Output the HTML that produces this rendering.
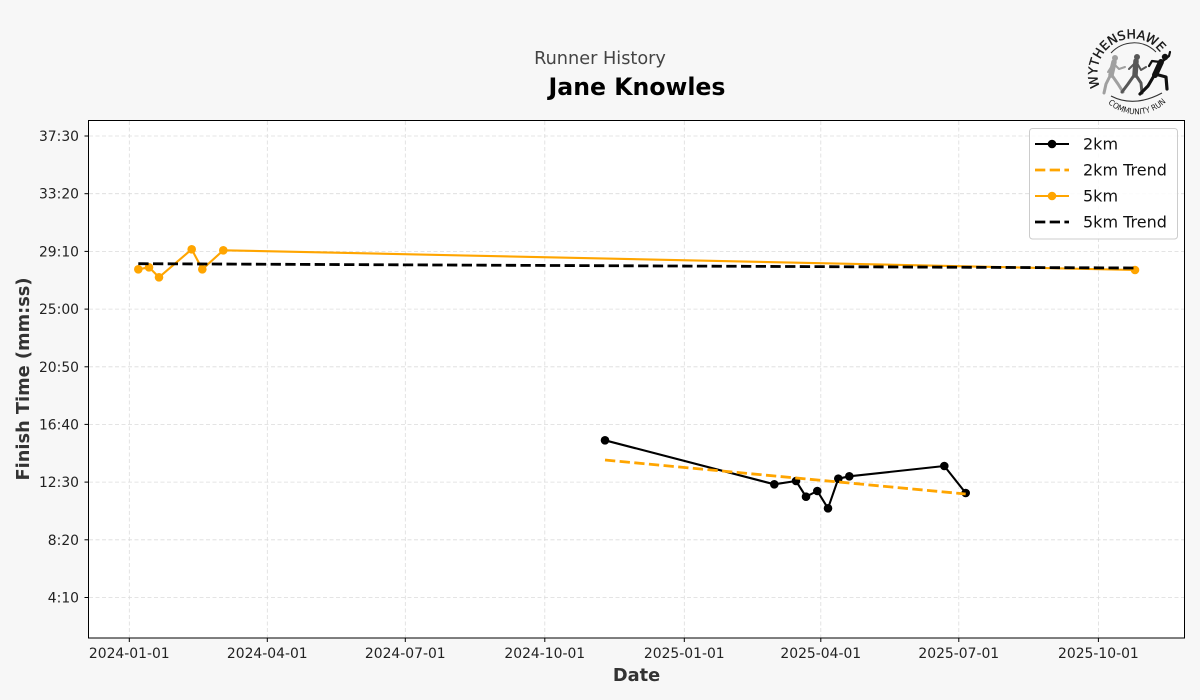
<!DOCTYPE html>
<html><head><meta charset="utf-8"><style>
html,body{margin:0;padding:0;background:#f7f7f7;}
svg{display:block;font-family:"DejaVu Sans","Liberation Sans",sans-serif;}
</style></head><body>
<svg width="1200" height="700" viewBox="0 0 1200 700" xmlns="http://www.w3.org/2000/svg">
<rect x="0" y="0" width="1200" height="700" fill="#f7f7f7"/>
<!-- titles -->
<text x="600" y="64" font-size="17.7" fill="#444" text-anchor="middle">Runner History</text>
<text x="637" y="95" font-size="23.6" font-weight="bold" fill="#000" text-anchor="middle">Jane Knowles</text>

<!-- logo -->
<g>
<defs>
<path id="arcTop" d="M1100,87 A35,35 0 0 1 1162,55"/>
<path id="arcBot" d="M1108,103.3 A42,42 0 0 0 1168,100"/>
</defs>
<text font-size="12.5" fill="#1a1a1a" stroke="#1a1a1a" stroke-width="0.35"><textPath href="#arcTop" textLength="101" lengthAdjust="spacing">WYTHENSHAWE</textPath></text>
<path d="M1111,53 A31,31 0 0 1 1156,52" fill="none" stroke="#333" stroke-width="1"/>
<path d="M1111,96 Q1134,108 1162,93" fill="none" stroke="#333" stroke-width="1.2"/>
<text font-size="8" fill="#1a1a1a"><textPath href="#arcBot" textLength="64" lengthAdjust="spacingAndGlyphs">COMMUNITY RUN</textPath></text>
<!-- walker gray -->
<g fill="#a0a0a0" stroke="#a0a0a0" stroke-linecap="round" stroke-linejoin="round">
<circle cx="1115" cy="58" r="3" stroke="none"/>
<path d="M1114,62 L1111,75" stroke-width="5.5" fill="none"/>
<path d="M1111,74 L1106,84 L1104,93 M1111,74 L1118,84 L1123,92" stroke-width="3" fill="none"/>
<path d="M1113,64 L1108,72 M1114,64 L1119,69 L1125,67" stroke-width="2" fill="none"/>
</g>
<!-- runner dark gray -->
<g fill="#575757" stroke="#575757" stroke-linecap="round" stroke-linejoin="round">
<circle cx="1137" cy="57" r="3" stroke="none"/>
<path d="M1136,61 L1135,75" stroke-width="5.5" fill="none"/>
<path d="M1135,74 L1128,84 L1122,92 M1135,74 L1141,83 L1142,93" stroke-width="3" fill="none"/>
<path d="M1135,63 L1129,69 M1137,63 L1141,70 L1146,67" stroke-width="2" fill="none"/>
</g>
<!-- runner black -->
<g fill="#111" stroke="#111" stroke-linecap="round" stroke-linejoin="round">
<circle cx="1165" cy="57" r="3.2" stroke="none"/>
<path d="M1161,62 L1155,75" stroke-width="6" fill="none"/>
<path d="M1155,74 L1148,86 L1140,94 M1155,74 L1166,77 L1167,89" stroke-width="3.2" fill="none"/>
<path d="M1160,62 L1152,61 L1149,66 M1163,61 L1169,56 L1170,52" stroke-width="2.2" fill="none"/>
</g>
</g>

<!-- axes background -->
<rect x="88.5" y="120.5" width="1096" height="517.5" fill="#ffffff"/>

<!-- grid -->
<g stroke="#dcdcdc" stroke-width="0.8" stroke-dasharray="4,2.5" fill="none">
<line x1="129.3" y1="121" x2="129.3" y2="638"/>
<line x1="267.3" y1="121" x2="267.3" y2="638"/>
<line x1="405.3" y1="121" x2="405.3" y2="638"/>
<line x1="544.8" y1="121" x2="544.8" y2="638"/>
<line x1="684.3" y1="121" x2="684.3" y2="638"/>
<line x1="820.8" y1="121" x2="820.8" y2="638"/>
<line x1="958.8" y1="121" x2="958.8" y2="638"/>
<line x1="1098.4" y1="121" x2="1098.4" y2="638"/>
<line x1="89" y1="136" x2="1184" y2="136"/>
<line x1="89" y1="193.7" x2="1184" y2="193.7"/>
<line x1="89" y1="251.4" x2="1184" y2="251.4"/>
<line x1="89" y1="309.1" x2="1184" y2="309.1"/>
<line x1="89" y1="366.8" x2="1184" y2="366.8"/>
<line x1="89" y1="424.4" x2="1184" y2="424.4"/>
<line x1="89" y1="482.1" x2="1184" y2="482.1"/>
<line x1="89" y1="539.8" x2="1184" y2="539.8"/>
<line x1="89" y1="597.5" x2="1184" y2="597.5"/>
</g>

<!-- series 5km -->
<polyline points="138.3,269.3 149,267.3 159,277.3 191.7,249.3 202.3,269.3 223.3,250.3 1135,270" fill="none" stroke="#FFA500" stroke-width="2.1" stroke-linejoin="round"/>
<g fill="#FFA500">
<circle cx="138.3" cy="269.3" r="4.3"/><circle cx="149" cy="267.3" r="4.3"/><circle cx="159" cy="277.3" r="4.3"/>
<circle cx="191.7" cy="249.3" r="4.3"/><circle cx="202.3" cy="269.3" r="4.3"/><circle cx="223.3" cy="250.3" r="4.3"/>
<circle cx="1135" cy="270" r="4.3"/>
</g>
<!-- 5km trend -->
<line x1="138.3" y1="263.7" x2="1135" y2="268" stroke="#000" stroke-width="2.8" stroke-dasharray="10.3,4.4"/>

<!-- series 2km -->
<polyline points="605,440.3 774.3,484.3 796,481 806,496.7 817.3,491 828,508.3 838.3,478.7 849.3,476.3 944.3,466 965.7,493" fill="none" stroke="#000" stroke-width="2.1" stroke-linejoin="round"/>
<g fill="#000">
<circle cx="605" cy="440.3" r="4.3"/><circle cx="774.3" cy="484.3" r="4.3"/><circle cx="796" cy="481" r="4.3"/>
<circle cx="806" cy="496.7" r="4.3"/><circle cx="817.3" cy="491" r="4.3"/><circle cx="828" cy="508.3" r="4.3"/>
<circle cx="838.3" cy="478.7" r="4.3"/><circle cx="849.3" cy="476.3" r="4.3"/><circle cx="944.3" cy="466" r="4.3"/>
<circle cx="965.7" cy="493" r="4.3"/>
</g>
<!-- 2km trend -->
<line x1="605" y1="460" x2="965.7" y2="494" stroke="#FFA500" stroke-width="2.8" stroke-dasharray="10.3,4.4"/>

<!-- spines -->
<rect x="88.5" y="120.5" width="1096" height="517.5" fill="none" stroke="#000" stroke-width="1"/>

<!-- ticks -->
<g stroke="#000" stroke-width="1">
<line x1="84.5" y1="136" x2="88.5" y2="136"/>
<line x1="84.5" y1="193.7" x2="88.5" y2="193.7"/>
<line x1="84.5" y1="251.4" x2="88.5" y2="251.4"/>
<line x1="84.5" y1="309.1" x2="88.5" y2="309.1"/>
<line x1="84.5" y1="366.8" x2="88.5" y2="366.8"/>
<line x1="84.5" y1="424.4" x2="88.5" y2="424.4"/>
<line x1="84.5" y1="482.1" x2="88.5" y2="482.1"/>
<line x1="84.5" y1="539.8" x2="88.5" y2="539.8"/>
<line x1="84.5" y1="597.5" x2="88.5" y2="597.5"/>
<line x1="129.3" y1="638" x2="129.3" y2="642"/>
<line x1="267.3" y1="638" x2="267.3" y2="642"/>
<line x1="405.3" y1="638" x2="405.3" y2="642"/>
<line x1="544.8" y1="638" x2="544.8" y2="642"/>
<line x1="684.3" y1="638" x2="684.3" y2="642"/>
<line x1="820.8" y1="638" x2="820.8" y2="642"/>
<line x1="958.8" y1="638" x2="958.8" y2="642"/>
<line x1="1098.4" y1="638" x2="1098.4" y2="642"/>
</g>
<g font-size="13.9" fill="#222" text-anchor="end">
<text x="79" y="141">37:30</text>
<text x="79" y="198.7">33:20</text>
<text x="79" y="256.4">29:10</text>
<text x="79" y="314.1">25:00</text>
<text x="79" y="371.8">20:50</text>
<text x="79" y="429.4">16:40</text>
<text x="79" y="487.1">12:30</text>
<text x="79" y="544.8">8:20</text>
<text x="79" y="602.5">4:10</text>
</g>
<g font-size="13.9" fill="#222" text-anchor="middle">
<text x="129.3" y="658">2024-01-01</text>
<text x="267.3" y="658">2024-04-01</text>
<text x="405.3" y="658">2024-07-01</text>
<text x="544.8" y="658">2024-10-01</text>
<text x="684.3" y="658">2025-01-01</text>
<text x="820.8" y="658">2025-04-01</text>
<text x="958.8" y="658">2025-07-01</text>
<text x="1098.4" y="658">2025-10-01</text>
</g>

<!-- axis labels -->
<text x="636.5" y="681" font-size="17.8" font-weight="bold" fill="#333" text-anchor="middle">Date</text>
<text transform="translate(29,379) rotate(-90)" font-size="17.8" font-weight="bold" fill="#333" text-anchor="middle">Finish Time (mm:ss)</text>

<!-- legend -->
<rect x="1029.5" y="128.5" width="148" height="110.5" rx="3" ry="3" fill="#fff" fill-opacity="0.85" stroke="#cccccc" stroke-width="1"/>
<g>
<line x1="1035" y1="144" x2="1069" y2="144" stroke="#000" stroke-width="2.1"/>
<circle cx="1052" cy="144" r="4.3" fill="#000"/>
<line x1="1035" y1="170" x2="1069" y2="170" stroke="#FFA500" stroke-width="2.8" stroke-dasharray="10.3,4.4"/>
<line x1="1035" y1="196" x2="1069" y2="196" stroke="#FFA500" stroke-width="2.1"/>
<circle cx="1052" cy="196" r="4.3" fill="#FFA500"/>
<line x1="1035" y1="222" x2="1069" y2="222" stroke="#000" stroke-width="2.8" stroke-dasharray="10.3,4.4"/>
</g>
<g font-size="16" fill="#111">
<text x="1083" y="149.5">2km</text>
<text x="1083" y="175.5">2km Trend</text>
<text x="1083" y="201.5">5km</text>
<text x="1083" y="227.5">5km Trend</text>
</g>
</svg>
</body></html>
